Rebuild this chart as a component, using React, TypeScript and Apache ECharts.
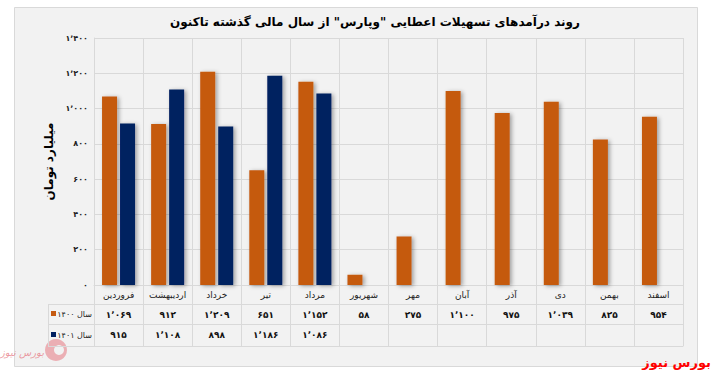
import React, { useEffect, useRef } from "react";
import * as echarts from "echarts";

const months = ["فروردین", "اردیبهشت", "خرداد", "تیر", "مرداد", "شهریور", "مهر", "آبان", "آذر", "دی", "بهمن", "اسفند"];
const year1400 = [1069, 912, 1209, 651, 1152, 58, 275, 1100, 975, 1039, 825, 954];
const year1401: (number | null)[] = [915, 1108, 898, 1186, 1086, null, null, null, null, null, null, null];
const seriesNames = ["سال ۱۴۰۰", "سال ۱۴۰۱"];
const titleText = 'روند درآمدهای تسهیلات اعطایی "وپارس" از سال مالی گذشته تاکنون';
const yName = "میلیارد تومان";
const brand = "بورس نیوز";

const fa = (n: number | null) =>
  n == null
    ? ""
    : n
        .toLocaleString("en-US")
        .replace(/\d/g, (d) => "۰۱۲۳۴۵۶۷۸۹"[+d])
        .replace(/,/g, "٬");

const ORANGE = "#c55a11";
const NAVY = "#002060";
const GRID = "#d9d9d9";
const FONT = "DejaVu Sans";

export default function App() {
  const ref = useRef<HTMLDivElement>(null);
  useEffect(() => {
    if (!ref.current) return;
    const chart = echarts.init(ref.current, undefined, { renderer: "svg" });
    const L = 94, R = 683, T = 38, B = 285;
    const shadow = { shadowBlur: 4, shadowColor: "rgba(0,0,0,0.35)", shadowOffsetX: 2, shadowOffsetY: 1 };
    const tableAxis = (data: string[], offset: number, showLabel: boolean) => ({
      type: "category" as const,
      gridIndex: 0,
      position: "bottom" as const,
      offset,
      data,
      axisLine: { show: true, lineStyle: { color: GRID } },
      axisTick: { show: false },
      splitLine: { show: false },
      axisLabel: {
        show: showLabel,
        interval: 0,
        margin: 6,
        fontFamily: FONT,
        fontSize: 9,
        fontWeight: "bold" as const,
        color: "#111",
      },
    });
    chart.setOption({
      animation: false,
      backgroundColor: "#ffffff",
      grid: { left: L, right: 713 - R, top: T, bottom: 375 - B, containLabel: false },
      title: {
        text: titleText,
        left: 370,
        top: 11,
        textAlign: "center",
        textStyle: { fontFamily: FONT, fontSize: 12, fontWeight: "bold", color: "#000" },
      },
      xAxis: [
        {
          type: "category",
          data: months,
          position: "bottom",
          axisLine: { show: true, lineStyle: { color: GRID } },
          axisTick: { show: true, length: 61, lineStyle: { color: GRID }, interval: 0 },
          splitLine: { show: true, interval: 0, lineStyle: { color: GRID } },
          axisLabel: { interval: 0, margin: 5, fontFamily: FONT, fontSize: 9, color: "#222" },
        },
        tableAxis(year1400.map(fa), 19, true),
        tableAxis(year1401.map(fa), 39, true),
        tableAxis(months.map(() => ""), 61, false),
      ],
      yAxis: {
        type: "value",
        min: 0,
        max: 1400,
        interval: 200,
        name: yName,
        nameLocation: "middle",
        nameGap: 29,
        nameRotate: 90,
        nameTextStyle: { fontFamily: FONT, fontSize: 12, fontWeight: "bold", color: "#000" },
        axisLine: { show: true, lineStyle: { color: GRID } },
        axisTick: { show: false },
        splitLine: { show: true, lineStyle: { color: GRID } },
        axisLabel: {
          formatter: (v: number) => fa(v),
          fontFamily: FONT,
          fontSize: 8,
          fontWeight: "bold",
          color: "#222",
          margin: 6,
        },
      },
      series: [
        {
          name: seriesNames[0],
          type: "bar",
          xAxisIndex: 0,
          data: year1400,
          barWidth: 15,
          barGap: "20%",
          itemStyle: { color: ORANGE, ...shadow },
        },
        {
          name: seriesNames[1],
          type: "bar",
          xAxisIndex: 0,
          data: year1401,
          barWidth: 15,
          barGap: "20%",
          itemStyle: { color: NAVY, ...shadow },
        },
      ],
      graphic: [
        {
          type: "rect",
          z: -10,
          silent: true,
          shape: { x: 14.5, y: 7.5, width: 683, height: 359 },
          style: { fill: "#f2f2f2", stroke: GRID, lineWidth: 1 },
        },
        {
          type: "group",
          z: -5,
          silent: true,
          children: [
            { type: "circle", shape: { cx: 56, cy: 350, r: 11 }, style: { fill: "rgba(230,120,130,0.55)" } },
            { type: "circle", shape: { cx: 59, cy: 350, r: 5 }, style: { fill: "#f2f2f2" } },
            {
              type: "text",
              x: 44,
              y: 352,
              style: {
                text: brand,
                fontFamily: FONT,
                fontSize: 10,
                fontStyle: "italic",
                fill: "rgba(230,120,130,0.75)",
                align: "right",
                verticalAlign: "middle",
              },
            },
          ],
        },
        { type: "line", shape: { x1: 48, y1: 304.5, x2: L, y2: 304.5 }, style: { stroke: GRID } },
        { type: "line", shape: { x1: 48, y1: 324.5, x2: L, y2: 324.5 }, style: { stroke: GRID } },
        { type: "line", shape: { x1: 48, y1: 346.5, x2: L, y2: 346.5 }, style: { stroke: GRID } },
        { type: "line", shape: { x1: 48.5, y1: 304, x2: 48.5, y2: 347 }, style: { stroke: GRID } },
        { type: "rect", shape: { x: 51, y: 311, width: 5, height: 5 }, style: { fill: ORANGE } },
        { type: "rect", shape: { x: 51, y: 332, width: 5, height: 5 }, style: { fill: NAVY } },
        {
          type: "text",
          x: 92,
          y: 314,
          style: { text: seriesNames[0], fontFamily: FONT, fontSize: 8, fill: "#222", align: "right", verticalAlign: "middle" },
        },
        {
          type: "text",
          x: 92,
          y: 335,
          style: { text: seriesNames[1], fontFamily: FONT, fontSize: 8, fill: "#222", align: "right", verticalAlign: "middle" },
        },
        {
          type: "text",
          x: 711,
          y: 362,
          style: { text: brand, fontFamily: FONT, fontSize: 13, fontWeight: "bold", fill: "#ff0000", align: "right", verticalAlign: "middle" },
        },
      ],
    });
    return () => chart.dispose();
  }, []);
  return <div ref={ref} style={{ position: "absolute", left: 0, top: 0, width: 713, height: 375 }} />;
}
